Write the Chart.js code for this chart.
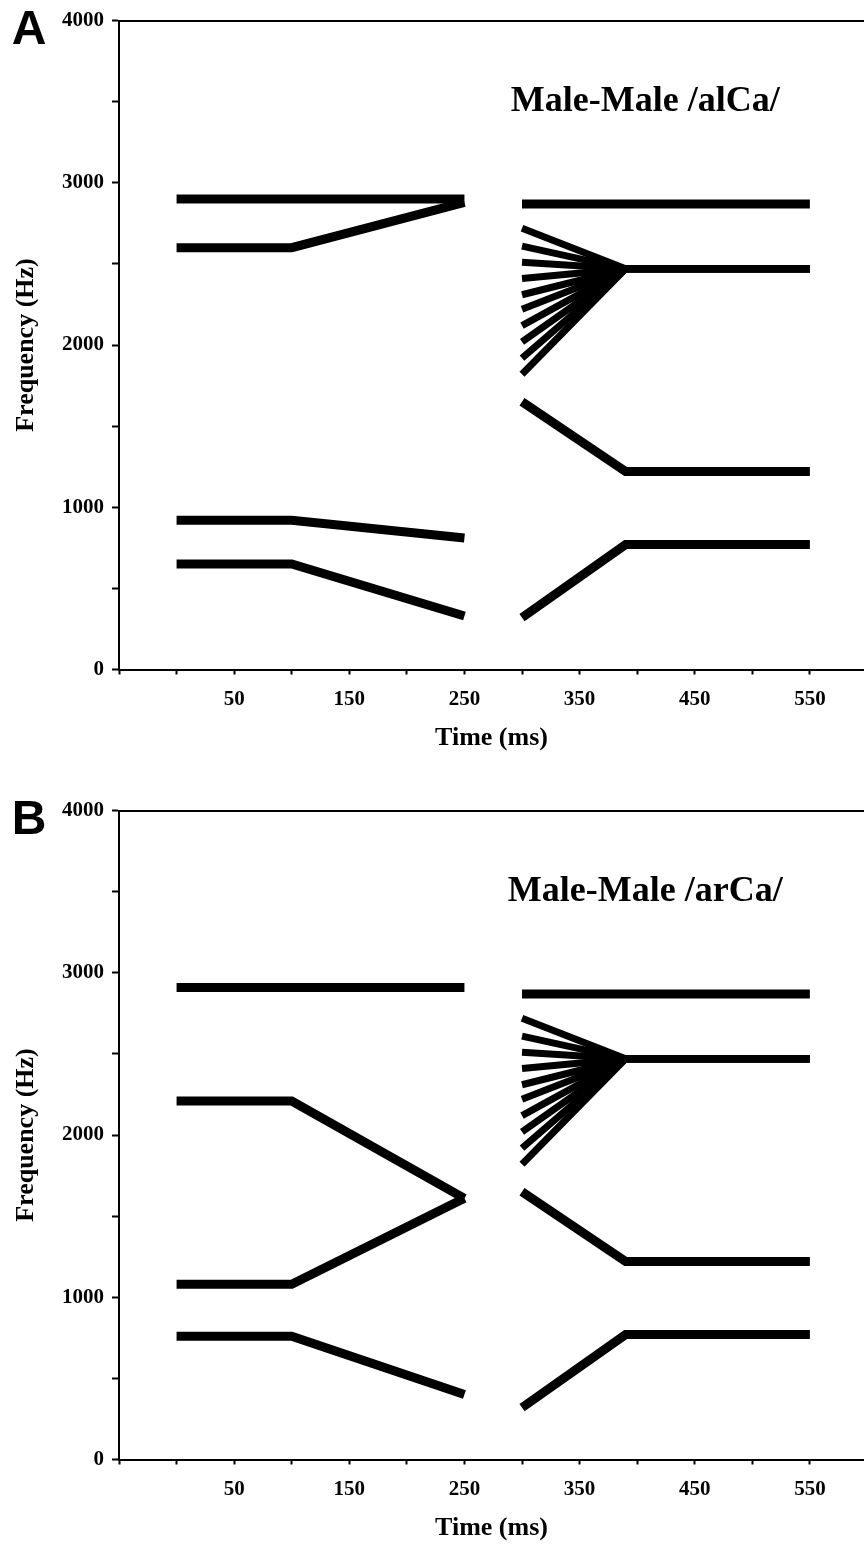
<!DOCTYPE html>
<html>
<head>
<meta charset="utf-8">
<script src="https://cdn.jsdelivr.net/npm/chart.js@4.4.1/dist/chart.umd.min.js"></script>
<style>
  html, body { margin: 0; padding: 0; background: #fff; overflow: hidden; }
  .panel { position: relative; width: 864px; height: 790px; }
  canvas { display: block; }
</style>
</head>
<body>
<div class="panel"><canvas id="panelA" width="864" height="790"></canvas></div>
<div class="panel"><canvas id="panelB" width="864" height="790"></canvas></div>
<script>
// time points (ms): first syllable steady state + transition, second syllable transition + steady state
var vowelTimes = [0, 100, 250];
var consTimes = [300, 390, 550];

// formant tracks (Hz), first syllable /al/
var alF1 = [650, 650, 330];
var alF2 = [920, 920, 810];
var alF3 = [2600, 2600, 2880];
var alF4 = [2900, 2900, 2900];

// first syllable /ar/
var arF1 = [760, 760, 400];
var arF2 = [1080, 1080, 1610];
var arF3 = [2210, 2210, 1610];
var arF4 = [2910, 2910, 2910];

// second syllable /Ca/ (same in both panels)
var caF1 = [320, 770, 770];
var caF2 = [1650, 1220, 1220];
var caF4 = [2870, 2870, 2870];
// F3 onset continuum, all gliding to the same target
var caF3Onsets = [2720, 2610, 2510, 2410, 2310, 2220, 2120, 2020, 1920, 1820];
var caF3Target = 2470;

var yTicks = [0, 1000, 2000, 3000, 4000];
var xTickLabels = [50, 150, 250, 350, 450, 550];

var serif = '"Liberation Serif", "Times New Roman", serif';

function track(times, vals, width) {
  return {
    data: times.map(function (t, i) { return { x: t, y: vals[i] }; }),
    borderColor: '#000',
    borderWidth: width || 9,
    borderCapStyle: 'butt',
    borderJoinStyle: 'miter',
    pointRadius: 0,
    fill: false,
    tension: 0
  };
}

// panel letter and the syllable label inside the plot
var panelText = {
  id: 'panelText',
  afterDraw: function (chart, args, opts) {
    var ctx = chart.ctx;
    var x = chart.scales.x, y = chart.scales.y;
    ctx.save();
    ctx.fillStyle = '#000';
    ctx.textAlign = 'center';
    ctx.textBaseline = 'middle';
    ctx.font = 'bold 36px ' + serif;
    ctx.fillText(opts.title, x.getPixelForValue(407), y.getPixelForValue(3500));
    ctx.font = 'bold 48px "Liberation Sans", Arial, sans-serif';
    ctx.fillText(opts.letter, 29, 31);
    ctx.restore();
  }
};

function makePanel(id, letter, title, f1, f2, f3, f4) {
  var datasets = [
    track(vowelTimes, f1), track(vowelTimes, f2),
    track(vowelTimes, f3), track(vowelTimes, f4),
    track(consTimes, caF1), track(consTimes, caF2), track(consTimes, caF4)
  ];
  caF3Onsets.forEach(function (on) {
    datasets.push(track(consTimes, [on, caF3Target, caF3Target], 7));
  });

  return new Chart(document.getElementById(id), {
    type: 'line',
    data: { datasets: datasets },
    plugins: [panelText],
    options: {
      responsive: false,
      animation: false,
      devicePixelRatio: 1,
      layout: { padding: { top: 15.5, left: 0, right: 0, bottom: 0 } },
      plugins: {
        legend: { display: false },
        tooltip: { enabled: false },
        panelText: { letter: letter, title: title }
      },
      scales: {
        x: {
          type: 'linear',
          min: -50,
          max: 597,
          afterFit: function (s) { s.height = 790 - 669.5; },
          border: { display: true, color: '#000', width: 2 },
          grid: { drawOnChartArea: false, color: '#000', tickLength: 5, tickWidth: 2 },
          ticks: {
            stepSize: 50,
            includeBounds: false,
            autoSkip: false,
            maxRotation: 0,
            padding: 12,
            color: '#000',
            font: { family: serif, size: 21, weight: 'bold' },
            callback: function (v) { return xTickLabels.indexOf(v) >= 0 ? String(v) : ''; }
          },
          title: {
            display: true,
            text: 'Time (ms)',
            color: '#000',
            font: { family: serif, size: 26, weight: 'bold' },
            padding: { top: 0, bottom: 36 }
          }
        },
        x2: {
          type: 'linear',
          position: 'top',
          min: -50,
          max: 597,
          afterFit: function (s) { s.height = 0; },
          border: { display: true, color: '#000', width: 2 },
          grid: { display: false },
          ticks: { display: false }
        },
        y: {
          min: 0,
          max: 4000,
          afterFit: function (s) { s.width = 119; },
          border: { display: true, color: '#000', width: 2 },
          grid: { drawOnChartArea: false, color: '#000', tickLength: 7, tickWidth: 2 },
          ticks: {
            stepSize: 500,
            autoSkip: false,
            padding: 8,
            color: '#000',
            font: { family: serif, size: 21, weight: 'bold' },
            callback: function (v) { return yTicks.indexOf(v) >= 0 ? String(v) : ''; }
          },
          title: {
            display: true,
            text: 'Frequency (Hz)',
            color: '#000',
            font: { family: serif, size: 26, weight: 'bold' },
            padding: { top: 11, bottom: 0 }
          }
        }
      }
    }
  });
}

makePanel('panelA', 'A', 'Male-Male /alCa/', alF1, alF2, alF3, alF4);
makePanel('panelB', 'B', 'Male-Male /arCa/', arF1, arF2, arF3, arF4);
</script>
</body>
</html>
